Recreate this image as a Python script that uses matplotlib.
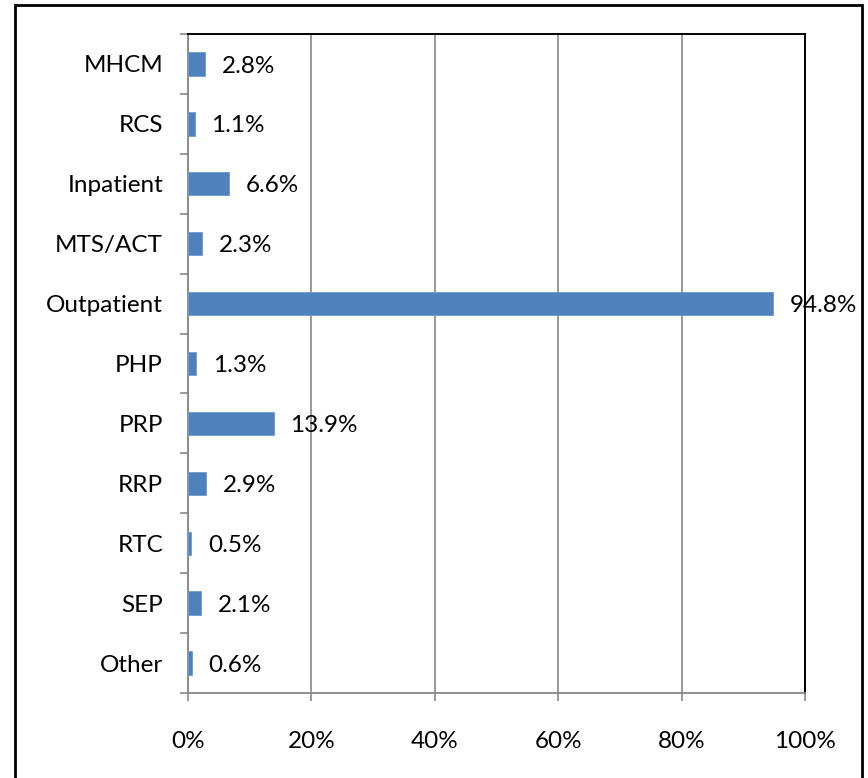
import matplotlib
matplotlib.use("Agg")
import matplotlib.pyplot as plt
from matplotlib.patches import Rectangle

plt.rcParams['font.family'] = ['Lato', 'DejaVu Sans']

categories = ["MHCM", "RCS", "Inpatient", "MTS/ACT", "Outpatient", "PHP",
              "PRP", "RRP", "RTC", "SEP", "Other"]
values = [2.8, 1.1, 6.6, 2.3, 94.8, 1.3, 13.9, 2.9, 0.5, 2.1, 0.6]
xticks = [0, 20, 40, 60, 80, 100]
xtick_labels = ["0%", "20%", "40%", "60%", "80%", "100%"]

W, H = 868, 778
FS = 17.5
fig = plt.figure(figsize=(W / 100, H / 100), dpi=100)
fig.patch.set_facecolor("white")

# outer frame (bottom cut off by image edge)
fig.add_artist(Rectangle((15 / W, -0.05), (862 - 15) / W, 1 - 5 / H + 0.05,
                         transform=fig.transFigure, fill=False,
                         edgecolor="black", linewidth=2.0))

ax = fig.add_axes([188 / W, 1 - 693 / H, (805 - 188) / W, (693 - 34) / H])

n = len(categories)
ypos = list(range(n))
bar_color = "#4F81BD"
ax.barh(ypos, values, height=0.39, color=bar_color, edgecolor="#6f9bd1",
        linewidth=0.6, zorder=3)

for y, v in zip(ypos, values):
    ax.annotate(f"{v:.1f}%", xy=(v, y), xytext=(12, -1.5), textcoords="offset points",
                va="center", ha="left", fontsize=FS, color="black",
                annotation_clip=False, zorder=5)

ax.set_xlim(0, 100)
ax.set_ylim(n - 0.5, -0.5)
ax.set_xticks(xticks)
ax.set_xticklabels(xtick_labels, fontsize=FS)
ax.set_yticks(ypos)
ax.set_yticklabels(categories, fontsize=FS)
ax.set_yticks([i - 0.5 for i in range(n + 1)], minor=True)

ax.tick_params(axis="y", which="major", length=0, pad=18)
ax.tick_params(axis="y", which="minor", length=6, width=1.2, color="#888888",
               direction="out")
ax.tick_params(axis="x", which="major", length=6, width=1.2, color="#888888",
               direction="out", pad=21)

ax.grid(axis="x", color="#888888", linewidth=1.2, zorder=0)
ax.set_axisbelow(True)

for side in ["left", "bottom"]:
    ax.spines[side].set_color("#888888")
    ax.spines[side].set_linewidth(1.3)
for side in ["top", "right"]:
    ax.spines[side].set_color("black")
    ax.spines[side].set_linewidth(1.4)

fig.savefig("out.png", dpi=100)
